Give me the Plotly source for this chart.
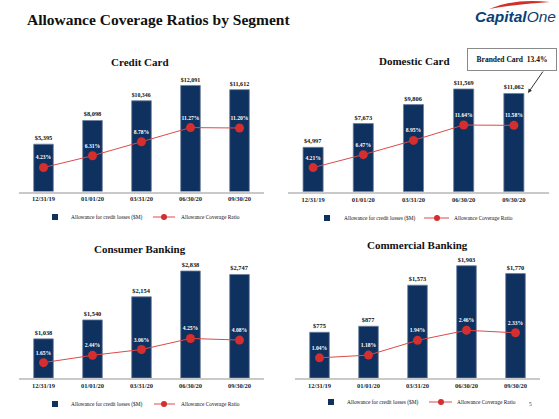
import plotly.graph_objects as go

W, H = 559, 419

dates = ["12/31/19", "01/01/20", "03/31/20", "06/30/20", "09/30/20"]
segment_titles = ["Credit Card", "Domestic Card", "Consumer Banking", "Commercial Banking"]

credit_card_allow = [5395, 8098, 10346, 12091, 11612]
credit_card_ratio = [4.23, 6.31, 8.78, 11.27, 11.20]
domestic_card_allow = [4997, 7673, 9806, 11569, 11062]
domestic_card_ratio = [4.21, 6.47, 8.95, 11.64, 11.58]
consumer_allow = [1038, 1540, 2154, 2838, 2747]
consumer_ratio = [1.65, 2.44, 3.06, 4.25, 4.08]
commercial_allow = [775, 877, 1573, 1903, 1770]
commercial_ratio = [1.04, 1.18, 1.94, 2.46, 2.33]

legend_names = ["Allowance for credit losses ($M)", "Allowance Coverage Ratio"]
branded_card_note = "Branded Card  13.4%"

NAVY = "#0f315f"
RED = "#d42e2e"
LINE_RED = "#dc4a4a"
SERIF = "Liberation Serif, Times New Roman, serif"


def px(x):
    return x / W


def py(y):
    return 1 - y / H


allows = [credit_card_allow, domestic_card_allow, consumer_allow, commercial_allow]
ratios = [credit_card_ratio, domestic_card_ratio, consumer_ratio, commercial_ratio]

# layout geometry per panel (pixels)
panels = [
    dict(x0=19, x1=264, xr=4.5, base=191.5, top=75, ppb=0.00877, ppr=5.67,
         tx=140, ty=62, leg=dict(sq=55, ly=217, t1=69, l0=153, l1=175, mk=164, t2=179)),
    dict(x0=288, x1=549, xr=4.7, base=191.7, top=75, ppb=0.00888, ppr=5.73,
         tx=414, ty=61, leg=dict(sq=327, ly=218, t1=342, l0=424, l1=449, mk=437, t2=452)),
    dict(x0=19, x1=264, xr=4.5, base=378, top=260, ppb=0.0377, ppr=9.3,
         tx=140, ty=249, leg=dict(sq=55, ly=404, t1=69, l0=154, l1=175, mk=164, t2=179)),
    dict(x0=295, x1=540, xr=4.5, base=378, top=255, ppb=0.059, ppr=19.4,
         tx=417, ty=245, leg=dict(sq=331, ly=402, t1=345, l0=429, l1=452, mk=441, t2=455)),
]

fig = go.Figure()
layout = {}
annotations = []
shapes = []

for i, (p, a, r, title) in enumerate(zip(panels, allows, ratios, segment_titles)):
    n = i + 1
    xa = f"x{n}" if n > 1 else "x"
    ya = f"y{n}" if n > 1 else "y"
    yr = f"y{n + 4}"
    fig.add_trace(go.Bar(
        x=dates, y=a, xaxis=xa, yaxis=ya,
        marker=dict(color=NAVY, line=dict(color="#6d7f9c", width=0.8)),
        text=[f"${v:,}" for v in a], textposition="outside",
        textfont=dict(family=SERIF, size=6.4, color="#111", weight="bold"),
        cliponaxis=False, showlegend=False, name=legend_names[0],
    ))
    fig.add_trace(go.Scatter(
        x=dates, y=r, xaxis=xa, yaxis=yr, mode="lines+markers+text",
        line=dict(color=LINE_RED, width=1),
        marker=dict(color=RED, size=9),
        text=[f"{v:.2f}%" for v in r], textposition="top center",
        textfont=dict(family=SERIF, size=5.6, color="white", weight="bold"),
        cliponaxis=False, showlegend=False, name=legend_names[1],
    ))
    h = p["base"] - p["top"]
    xkey = "xaxis" if n == 1 else f"xaxis{n}"
    ykey = "yaxis" if n == 1 else f"yaxis{n}"
    layout[xkey] = dict(
        domain=[px(p["x0"]), px(p["x1"])], anchor=ya, type="category",
        range=[-0.5, p["xr"]], showline=True, linecolor="#c9c9c9", linewidth=2,
        showgrid=False, zeroline=False, ticks="",
        tickfont=dict(family=SERIF, size=6.5, color="#222", weight="bold"),
        fixedrange=True,
    )
    layout[ykey] = dict(
        domain=[py(p["base"]), py(p["top"])], anchor=xa,
        range=[0, h / p["ppb"]], visible=False, fixedrange=True,
    )
    layout[f"yaxis{n + 4}"] = dict(
        domain=[py(p["base"]), py(p["top"])], anchor=xa, overlaying=ya, side="right",
        range=[0, h / p["ppr"]], visible=False, fixedrange=True,
    )
    annotations.append(dict(
        text=f"<b>{title}</b>", x=px(p["tx"]), y=py(p["ty"]), xref="paper", yref="paper",
        showarrow=False, xanchor="center", yanchor="middle",
        font=dict(family=SERIF, size=11, color="#111"),
    ))
    lg = p["leg"]
    shapes.append(dict(type="rect", xref="paper", yref="paper",
                       x0=px(lg["sq"] - 3), x1=px(lg["sq"] + 3),
                       y0=py(lg["ly"] + 3), y1=py(lg["ly"] - 3),
                       fillcolor=NAVY, line=dict(width=0)))
    shapes.append(dict(type="line", xref="paper", yref="paper",
                       x0=px(lg["l0"]), x1=px(lg["l1"]), y0=py(lg["ly"]), y1=py(lg["ly"]),
                       line=dict(color=LINE_RED, width=1)))
    shapes.append(dict(type="circle", xref="paper", yref="paper",
                       x0=px(lg["mk"] - 3), x1=px(lg["mk"] + 3),
                       y0=py(lg["ly"] + 3), y1=py(lg["ly"] - 3),
                       fillcolor=RED, line=dict(width=0)))
    for tx, txt in ((lg["t1"], legend_names[0]), (lg["t2"], legend_names[1])):
        annotations.append(dict(
            text=txt, x=px(tx), y=py(lg["ly"]), xref="paper", yref="paper",
            showarrow=False, xanchor="left", yanchor="middle",
            font=dict(family=SERIF, size=5.4, color="#111"),
        ))

# main title
annotations.append(dict(
    text="<b>Allowance Coverage Ratios by Segment</b>", x=px(25), y=py(20),
    xref="paper", yref="paper", showarrow=False, xanchor="left", yanchor="middle",
    font=dict(family=SERIF, size=15.5, color="#111"),
))
# logo
annotations.append(dict(
    text="<b><i>Capital</i></b><i>One</i>", x=px(473), y=py(16),
    xref="paper", yref="paper", showarrow=False, xanchor="left", yanchor="middle",
    font=dict(family="Liberation Sans, Arial, sans-serif", size=15.5, color="#0b3f74"),
))
shapes.append(dict(
    type="path", xref="paper", yref="paper",
    path=(f"M {px(489)},{py(9)} Q {px(515)},{py(-2)} {px(550)},{py(2)} "
          f"Q {px(517)},{py(4)} {px(489)},{py(9)} Z"),
    fillcolor="#d22e2a", line=dict(width=0),
))
# branded card callout
annotations.append(dict(
    text=f"<b>{branded_card_note}</b>", x=px(511.5), y=py(59),
    xref="paper", yref="paper", showarrow=False, xanchor="center", yanchor="middle",
    width=86, height=19, bordercolor="#8a8a8a", borderwidth=1, bgcolor="white",
    font=dict(family=SERIF, size=7.5, color="#111"),
))
annotations.append(dict(
    text="", x=px(528), y=py(93), ax=16, ay=-23, xref="paper", yref="paper",
    showarrow=True, arrowhead=2, arrowsize=0.8, arrowwidth=1, arrowcolor="#333",
))
# page number
annotations.append(dict(
    text="5", x=px(534), y=py(409), xref="paper", yref="paper", showarrow=False,
    font=dict(family=SERIF, size=5.5, color="#333"),
))

fig.update_layout(
    width=W, height=H, margin=dict(l=0, r=0, t=0, b=0),
    paper_bgcolor="white", plot_bgcolor="white",
    bargap=0.6, annotations=annotations, shapes=shapes, **layout,
)

fig.write_html(
    "out.html",
    config={"displayModeBar": False},
    post_script="document.body.style.margin='0';document.body.style.overflow='hidden';",
)
